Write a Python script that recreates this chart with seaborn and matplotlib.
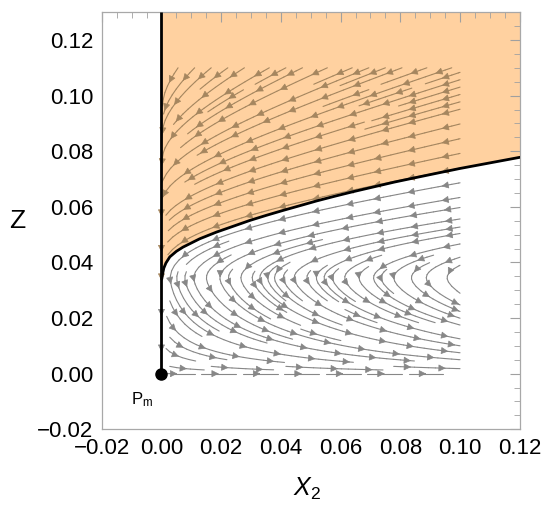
import numpy as np
import matplotlib
matplotlib.use('Agg')
import matplotlib.pyplot as plt
import seaborn as sns
from matplotlib.collections import LineCollection
from matplotlib.patches import FancyArrowPatch
from matplotlib.ticker import MultipleLocator

sns.set_theme(style='white')
plt.rcParams['font.family'] = ['Liberation Sans', 'DejaVu Sans']
plt.rcParams['mathtext.fontset'] = 'custom'
plt.rcParams['mathtext.rm'] = 'Liberation Sans'
plt.rcParams['mathtext.it'] = 'Liberation Sans:italic'
plt.rcParams['text.color'] = 'black'
plt.rcParams['axes.labelcolor'] = 'black'

# separatrix (X2, Z)
sep_x = [0.0, 0.0001, 0.0004, 0.0008, 0.0015, 0.0028, 0.0050, 0.0072, 0.0100, 0.0128, 0.0184,
         0.0240, 0.0296, 0.0350, 0.0407, 0.0460, 0.0519, 0.0580, 0.0640, 0.0700, 0.0780, 0.0860,
         0.0932, 0.1000, 0.1100, 0.1200]
sep_z = [0.0300, 0.0340, 0.0360, 0.0380, 0.0398, 0.0420, 0.0440, 0.0455, 0.0470, 0.0485, 0.0509,
         0.0530, 0.0551, 0.0569, 0.0587, 0.0603, 0.0621, 0.0638, 0.0654, 0.0669, 0.0689, 0.0707,
         0.0723, 0.0738, 0.0758, 0.0778]

# invariant line X2 = 0 and the point Pm
axis_z = [0.0, 0.13]
pm = (0.0, 0.0)

# flow model parameters, tuned to the picture
z_c = 0.0345
k3 = 6.5
k1 = 5.0
k_b = 1.3e-3
w_b = 0.012

xs = np.linspace(0.0, 0.1, 120)
zs = np.linspace(0.0, 0.11, 130)
X, Z = np.meshgrid(xs, zs)
U = np.sqrt(X) * (z_c - Z)
G = k3 * Z**3 + k1 * Z * np.clip(z_c - Z, 0, None) + k_b * np.sqrt(X) * np.exp(-((Z - z_c) / w_b) ** 2)
V = -G

gray = '#878787'
brown = '#a5865f'


def region_color(px, pz):
    return brown if pz > np.interp(px, sep_x, sep_z) else gray


fig, ax = plt.subplots(figsize=(5.5, 5.08), dpi=100)
fig.subplots_adjust(left=0.185, right=0.945, top=0.976, bottom=0.155)
ax.set_xlim(-0.02, 0.12)
ax.set_ylim(-0.02, 0.13)

ax.fill_between(sep_x, sep_z, 0.13, color='#ffd1a0', lw=0, zorder=0)

sp = ax.streamplot(xs, zs, U, V, color=gray, density=(1.25, 1.45),
                   linewidth=0.8, arrowsize=1.0, zorder=1)
# rebuild the single streamlines, drop the one-per-line arrows
segs = [np.asarray(s) for s in sp.lines.get_segments()]
if all(len(s) == 2 for s in segs):
    trajs = []
    cur = [segs[0][0], segs[0][1]]
    for s in segs[1:]:
        if np.allclose(s[0], cur[-1], rtol=0, atol=1e-12):
            cur.append(s[1])
        else:
            trajs.append(np.array(cur))
            cur = [s[0], s[1]]
    trajs.append(np.array(cur))
else:
    trajs = segs
for p in list(ax.patches):
    p.remove()
sp.lines.remove()

pieces, piece_cols = [], []
for t in trajs:
    for a, b in zip(t[:-1], t[1:]):
        pieces.append([a, b])
        piece_cols.append(region_color(*((a + b) / 2)))
ax.add_collection(LineCollection(pieces, colors=piece_cols, linewidths=0.8,
                                 capstyle='round', zorder=1))

# arrows spaced along every streamline, as Mathematica does
spacing = 34.0
for t in trajs:
    d = ax.transData.transform(t)
    s = np.concatenate([[0], np.cumsum(np.hypot(*np.diff(d, axis=0).T))])
    if s[-1] < 12:
        continue
    marks = np.arange(spacing / 2, s[-1], spacing) if s[-1] > spacing else [s[-1] / 2]
    for m in marks:
        n = min(max(np.searchsorted(s, m), 1), len(t) - 1)
        p0 = t[n - 1]
        p1 = t[n]
        ax.add_patch(FancyArrowPatch(p0, (p0 + p1) / 2, arrowstyle='-|>', mutation_scale=11,
                                     color=region_color(*p1), lw=0.5, zorder=2))

ax.plot([0, 0], axis_z, color='black', lw=2, zorder=3, solid_capstyle='butt')
ax.plot(sep_x[1:], sep_z[1:], color='black', lw=2, zorder=3)
ax.plot(*pm, 'o', color='black', ms=8, zorder=4)
ax.text(-0.0066, -0.0092, r'$\mathregular{P_m}$', fontsize=12, ha='center', va='center')

ax.xaxis.set_major_locator(MultipleLocator(0.02))
ax.yaxis.set_major_locator(MultipleLocator(0.02))
ax.xaxis.set_minor_locator(MultipleLocator(0.005))
ax.yaxis.set_minor_locator(MultipleLocator(0.005))
ax.xaxis.set_major_formatter(lambda v, p: f'{v:.2f}'.replace('-', '\u2212'))
ax.yaxis.set_major_formatter(lambda v, p: f'{v:.2f}'.replace('-', '\u2212'))
ax.tick_params(which='both', direction='in', top=True, right=True, color='#a0a0a0',
               labelsize=16, labelcolor='black')
ax.tick_params(which='major', length=7, width=0.8, pad=6)
ax.tick_params(which='minor', length=4, width=0.6)
for s in ax.spines.values():
    s.set_color('#a8a8a8')
    s.set_linewidth(0.9)

ax.set_xlabel(r'$X_{\mathregular{2}}$', fontsize=18, va='center', color='black')
ax.xaxis.set_label_coords(0.49, -0.143)
ax.set_ylabel('Z', fontsize=19, rotation=0, va='center', ha='center', color='black')
ax.yaxis.set_label_coords(-0.203, 0.50)

fig.savefig('out.png', dpi=100)
